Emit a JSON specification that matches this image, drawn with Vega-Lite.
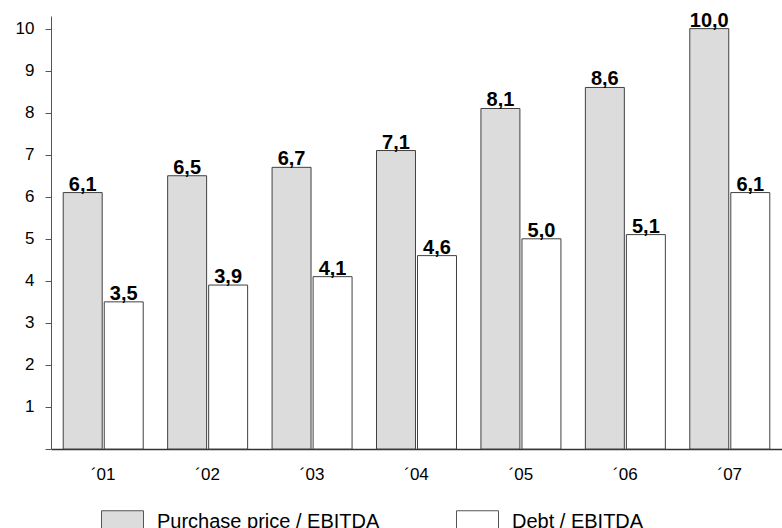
{
  "$schema": "https://vega.github.io/schema/vega-lite/v6.json",
  "width": 731,
  "height": 433,
  "autosize": {"type": "none"},
  "padding": {"left": 51, "top": 16, "right": 0, "bottom": 79},
  "config": {
    "view": {"stroke": null},
    "font": "Liberation Sans",
    "locale": {"number": {"decimal": ",", "thousands": ".", "grouping": [3], "currency": ["", " €"]}}
  },
  "data": {
    "values": [
      {"year": "´01", "series": "Purchase price / EBITDA", "value": 6.1},
      {"year": "´02", "series": "Purchase price / EBITDA", "value": 6.5},
      {"year": "´03", "series": "Purchase price / EBITDA", "value": 6.7},
      {"year": "´04", "series": "Purchase price / EBITDA", "value": 7.1},
      {"year": "´05", "series": "Purchase price / EBITDA", "value": 8.1},
      {"year": "´06", "series": "Purchase price / EBITDA", "value": 8.6},
      {"year": "´07", "series": "Purchase price / EBITDA", "value": 10.0},
      {"year": "´01", "series": "Debt / EBITDA", "value": 3.5},
      {"year": "´02", "series": "Debt / EBITDA", "value": 3.9},
      {"year": "´03", "series": "Debt / EBITDA", "value": 4.1},
      {"year": "´04", "series": "Debt / EBITDA", "value": 4.6},
      {"year": "´05", "series": "Debt / EBITDA", "value": 5.0},
      {"year": "´06", "series": "Debt / EBITDA", "value": 5.1},
      {"year": "´07", "series": "Debt / EBITDA", "value": 6.1}
    ]
  },
  "encoding": {
    "x": {
      "field": "year",
      "type": "nominal",
      "sort": null,
      "scale": {"paddingInner": 0.234, "paddingOuter": 0.117},
      "axis": {
        "title": null,
        "ticks": false,
        "tickSize": 0,
        "labelAngle": 0,
        "labelFontSize": 17,
        "labelPadding": 17,
        "labelColor": "#000000",
        "domainColor": "#333333",
        "domainWidth": 1.5
      }
    },
    "xOffset": {
      "field": "series",
      "type": "nominal",
      "sort": ["Purchase price / EBITDA", "Debt / EBITDA"],
      "scale": {"domain": ["Purchase price / EBITDA", "Debt / EBITDA"], "paddingInner": 0.05}
    },
    "y": {
      "field": "value",
      "type": "quantitative",
      "scale": {"domain": [0, 10.3], "nice": false},
      "axis": {
        "title": null,
        "grid": false,
        "values": [0, 1, 2, 3, 4, 5, 6, 7, 8, 9, 10],
        "format": "d",
        "labelExpr": "datum.value == 0 ? '' : datum.label",
        "tickSize": 6,
        "tickColor": "#555555",
        "domainColor": "#555555",
        "labelPadding": 11,
        "labelFontSize": 17,
        "labelColor": "#000000"
      }
    }
  },
  "layer": [
    {
      "mark": {"type": "bar", "stroke": "#404040", "strokeWidth": 1},
      "encoding": {
        "color": {
          "field": "series",
          "type": "nominal",
          "scale": {"domain": ["Purchase price / EBITDA", "Debt / EBITDA"], "range": ["#dcdcdc", "#ffffff"]},
          "legend": {
            "title": null,
            "orient": "none",
            "legendX": 50,
            "legendY": 494,
            "direction": "horizontal",
            "symbolType": "square",
            "symbolSize": 1764,
            "symbolStrokeColor": "#555555",
            "symbolStrokeWidth": 1,
            "labelFontSize": 20,
            "labelOffset": 13,
            "labelLimit": 400,
            "labelBaseline": "bottom",
            "labelColor": "#000000",
            "columnPadding": 74,
            "padding": 0,
            "encode": {
              "symbols": {
                "update": {
                  "fill": {"signal": "datum.value == 'Debt / EBITDA' ? '#ffffff' : '#c4c4c4'"},
                  "stroke": {"value": "#555555"},
                  "strokeWidth": {"value": 1},
                  "opacity": {"value": 1}
                }
              }
            }
          }
        }
      }
    },
    {
      "mark": {"type": "text", "fontWeight": "bold", "fontSize": 20, "baseline": "alphabetic", "dy": -2, "color": "#000000"},
      "encoding": {
        "text": {"field": "value", "type": "quantitative", "format": ".1f"}
      }
    }
  ]
}
